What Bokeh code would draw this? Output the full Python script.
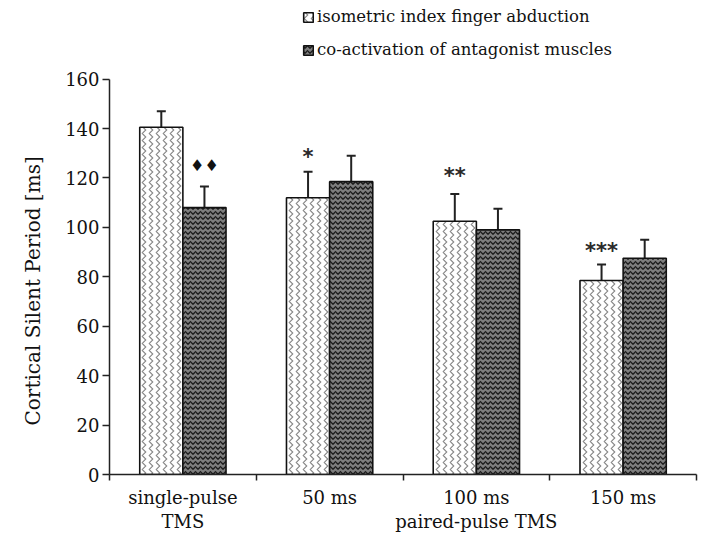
from bokeh.plotting import figure
from bokeh.models import (Range1d, FixedTicker, ColumnDataSource, Whisker, TeeHead,
                          Legend, LegendItem, Title)
from bokeh.core.properties import value
from bokeh.embed import file_html
from bokeh.resources import INLINE

# ---- data ----
categories = ["single-pulse\nTMS", "50 ms", "100 ms\npaired-pulse TMS", "150 ms"]
series_names = ["isometric index finger abduction", "co-activation of antagonist muscles"]
y_title = "Cortical Silent Period [ms]"
iso_mean = [140.5, 112.0, 102.5, 78.5]
iso_err = [6.5, 10.5, 11.0, 6.5]
co_mean = [108.0, 118.5, 99.0, 87.5]
co_err = [8.5, 10.5, 8.5, 7.5]
sig_labels = ["\u2666\u2666", "*", "**", "***"]
sig_series = [1, 0, 0, 0]          # which bar of the group the mark sits above
sig_y = [125.0, 128.6, 120.6, 90.6]
y_ticks = [0, 20, 40, 60, 80, 100, 120, 140, 160]

# ---- layout params ----
BW = 0.294
OFF = 0.147
FONT = "DejaVu Serif"

idx = list(range(len(categories)))
x_iso = [i - OFF for i in idx]
x_co = [i + OFF for i in idx]

p = figure(width=700, height=536, output_backend="svg", toolbar_location=None,
           x_range=Range1d(-0.5, len(categories) - 0.5), y_range=Range1d(0, 191.8),
           min_border_left=108, min_border_right=4, min_border_top=0, min_border_bottom=62)
p.outline_line_color = None
p.xgrid.visible = False
p.ygrid.visible = False
p.background_fill_color = "white"

src_iso = ColumnDataSource(dict(x=x_iso, top=iso_mean, up=[m + e for m, e in zip(iso_mean, iso_err)]))
src_co = ColumnDataSource(dict(x=x_co, top=co_mean, up=[m + e for m, e in zip(co_mean, co_err)]))

r_iso = p.vbar(x="x", top="top", bottom=0, width=BW, source=src_iso,
               fill_color="white", line_color="#111111", line_width=1.6,
               hatch_pattern="vertical_wave", hatch_scale=7, hatch_weight=1.1,
               hatch_color="#222222", hatch_alpha=0.55)
r_co = p.vbar(x="x", top="top", bottom=0, width=BW, source=src_co,
              fill_color="#7e7e7e", line_color="#111111", line_width=1.6,
              hatch_pattern="horizontal_wave", hatch_scale=5, hatch_weight=1.3,
              hatch_color="#111111", hatch_alpha=0.9)

for src in (src_iso, src_co):
    w = Whisker(base="x", lower="top", upper="up", source=src, dimension="height",
                lower_head=None, upper_head=TeeHead(size=9, line_width=2, line_color="#222222"),
                line_width=2, line_color="#222222")
    p.add_layout(w)

# significance marks
sig_x = [x_co[i] if s == 1 else x_iso[i] for i, s in enumerate(sig_series)]
dia = [k for k, t in enumerate(sig_labels) if "*" not in t]
ast = [k for k, t in enumerate(sig_labels) if "*" in t]
p.text(x=[sig_x[k] for k in dia], y=[sig_y[k] for k in dia], text=[sig_labels[k] for k in dia],
       text_font=value("DejaVu Sans"), text_font_size="16px", text_align="center",
       text_baseline="middle", text_color="#111111")
p.text(x=[sig_x[k] for k in ast], y=[sig_y[k] for k in ast], text=[sig_labels[k] for k in ast],
       text_font=value("DejaVu Sans"), text_font_size="21px", text_font_style="bold",
       text_align="center", text_baseline="middle", text_color="#2a2a2a")

# y axis
ya = p.yaxis[0]
ya.bounds = (y_ticks[0], y_ticks[-1])
ya.ticker = FixedTicker(ticks=y_ticks)
ya.axis_line_color = "#222222"
ya.axis_line_width = 1.5
ya.major_tick_out = 7
ya.major_tick_in = 0
ya.major_tick_line_width = 1.5
ya.major_tick_line_color = "#222222"
ya.minor_tick_line_color = None
ya.major_label_standoff = 3
ya.major_label_text_font = FONT
ya.major_label_text_font_size = "18px"
ya.major_label_text_color = "#111111"

# y title as a left-side title, shifted to sit centred on the 0-160 axis span
p.add_layout(Title(text=y_title, align="left", offset=49, standoff=36,
                   text_font=FONT, text_font_size="20px", text_font_style="normal",
                   text_color="#111111"), "left")

# x axis: labels at category centres, ticks at boundaries
xa = p.xaxis[0]
xa.ticker = FixedTicker(ticks=idx, minor_ticks=[i - 0.5 for i in idx] + [idx[-1] + 0.5])
xa.major_label_overrides = {i: c for i, c in zip(idx, categories)}
xa.axis_line_color = "#222222"
xa.axis_line_width = 1.5
xa.major_tick_out = 0
xa.major_tick_in = 0
xa.minor_tick_out = 6
xa.minor_tick_in = 0
xa.minor_tick_line_color = "#222222"
xa.minor_tick_line_width = 1.5
xa.major_label_standoff = 6
xa.major_label_text_line_height = 1.17
xa.major_label_text_font = FONT
xa.major_label_text_font_size = "18px"
xa.major_label_text_color = "#111111"

legend = Legend(items=[LegendItem(label=series_names[0], renderers=[r_iso]),
                       LegendItem(label=series_names[1], renderers=[r_co])],
                location=(193, 415), orientation="vertical",
                glyph_width=12, glyph_height=12, label_standoff=3, spacing=14,
                padding=0, margin=0, border_line_color=None, background_fill_alpha=0,
                label_text_font=FONT, label_text_font_size="16.5px", label_text_color="#111111")
p.add_layout(legend)

open("out.html", "w").write(file_html(p, INLINE))
